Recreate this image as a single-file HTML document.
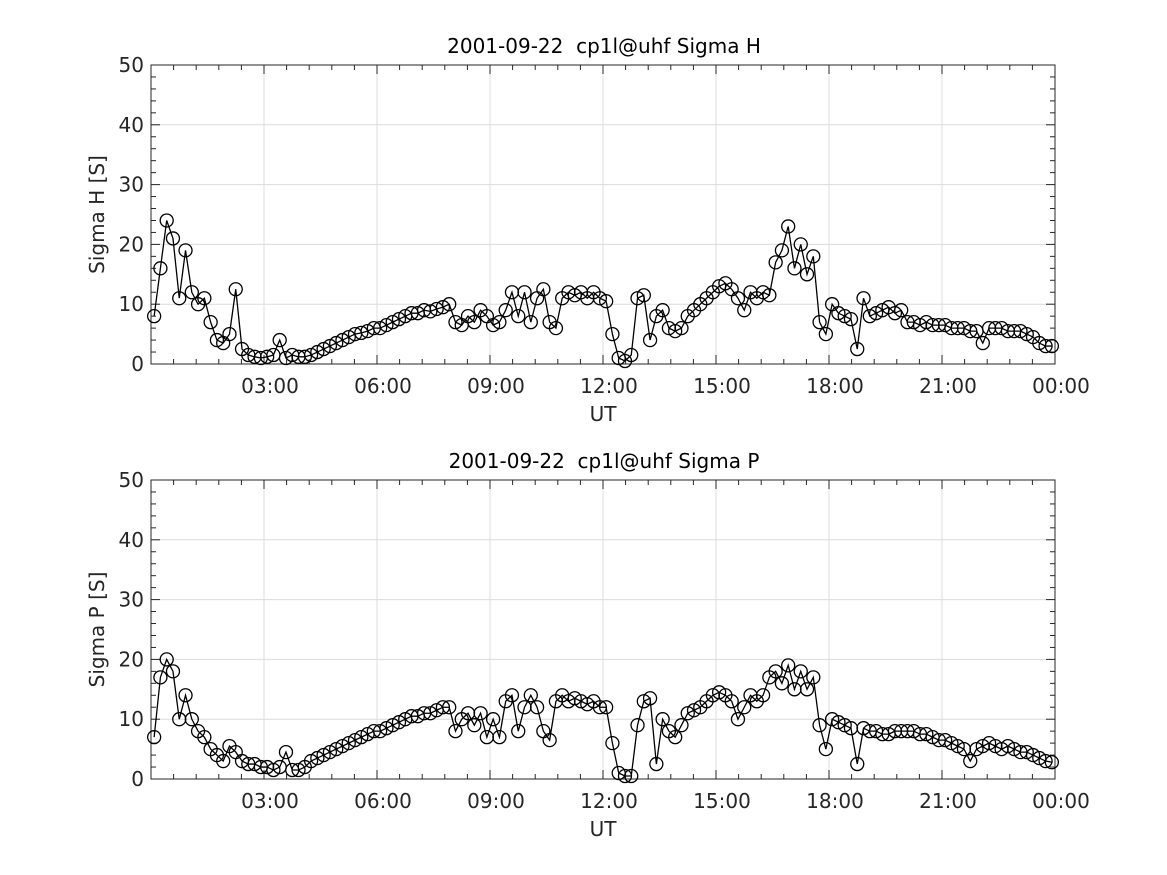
<!DOCTYPE html>
<html><head><meta charset="utf-8"><style>
body{margin:0;background:#fff;}
svg{display:block;font-family:"DejaVu Sans","Liberation Sans",sans-serif;}
text{white-space:pre;}
</style></head><body>
<svg id="c" width="1167" height="875"></svg>
<script>
const hoursLabels = ["03:00","06:00","09:00","12:00","15:00","18:00","21:00","00:00"];
const yTicks = [0,10,20,30,40,50];
const sigmaH = [
8,16,24,21,11,19, 12,10,11,7,4,3.5, 5,12.5,2.5,1.5,1.2,1, 1.2,1.5,4,1,1.5,1.2,
1.2,1.5,2,2.5,3,3.5, 4,4.5,5,5.2,5.5,6, 6,6.5,7,7.5,8,8.5, 8.5,9,8.8,9.2,9.5,10,
7,6.5,8,7,9,8, 6.5,7,9,12,8,12, 7,11,12.5,7,6,11, 12,11.5,12,11,12,11,
10.5,5,1,0.5,1.5,11, 11.5,4,8,9,6,5.5, 6,8,9,10,11,12, 13,13.5,12.5,11,9,12,
11,12,11.5,17,19,23, 16,20,15,18,7,5, 10,8.5,8,7.5,2.5,11, 8,8.5,9,9.5,8.5,9,
7,7,6.5,7,6.5,6.5, 6.5,6,6,6,5.5,5.5, 3.5,6,6,6,5.5,5.5, 5.5,5,4.5,3.5,3,3];
const sigmaP = [
7,17,20,18,10,14, 10,8,7,5,4,3, 5.5,4.5,3,2.5,2.5,2, 2,1.5,2,4.5,1.5,1.5,
2,3,3.5,4,4.5,5, 5.5,6,6.5,7,7.5,8, 8,8.5,9,9.5,10,10.5, 10.5,11,11,11.5,12,12,
8,10,11,9,11,7, 10,7,13,14,8,12, 14,12,8,6.5,13,14, 13,13.5,13,12.5,13,12,
12,6,1,0.5,0.5,9, 13,13.5,2.5,10,8,7, 9,11,11.5,12,13,14, 14.5,14,13,10,12,14,
13,14,17,18,16,19, 15,18,15,17,9,5, 10,9.5,9,8.5,2.5,8.5, 8,8,7.5,7.5,8,8,
8,8,7.5,7.5,7,6.5, 6.5,6,5.5,5,3,5, 5.5,6,5.5,5,5.5,5, 4.5,4.5,4,3.5,3,2.8];

const NS="http://www.w3.org/2000/svg";
const svg=document.getElementById('c');
function mk(tag,attrs,parent){const e=document.createElementNS(NS,tag);for(const k in attrs)e.setAttribute(k,attrs[k]);(parent||svg).appendChild(e);return e;}
const X0=151,X1=1055;
function xs(h){return X0+(X1-X0)*h/24;}

function panel(top,bottom,vals,title,ylab,key){
  const g=mk('g',{});
  
  
  const ys=v=>bottom-(bottom-top)*v/50;
  mk('rect',{x:X0,y:top,width:X1-X0,height:bottom-top,fill:'#fff'},g);
  for(let i=1;i<=8;i++){mk('line',{x1:xs(i*3),x2:xs(i*3),y1:top,y2:bottom,stroke:'#dcdcdc','stroke-width':1},g);}
  yTicks.forEach(v=>{mk('line',{x1:X0,x2:X1,y1:ys(v),y2:ys(v),stroke:'#dcdcdc','stroke-width':1},g);});
  for(let i=0;i<=40;i++){const x=xs(i*0.6);const L=(i%5==0)?9:5;
    mk('line',{x1:x,x2:x,y1:bottom,y2:bottom-L,stroke:'#262626'},g);
    mk('line',{x1:x,x2:x,y1:top,y2:top+L,stroke:'#262626'},g);}
  for(let v=0;v<=50;v+=2){const y=ys(v);const L=(v%10==0)?9:5;
    mk('line',{x1:X0,x2:X0+L,y1:y,y2:y,stroke:'#262626'},g);
    mk('line',{x1:X1,x2:X1-L,y1:y,y2:y,stroke:'#262626'},g);}
  mk('rect',{x:X0,y:top,width:X1-X0,height:bottom-top,fill:'none',stroke:'#262626','stroke-width':1},g);
  hoursLabels.forEach((t,i)=>{const e=mk('text',{x:xs((i+1)*3)+6,y:bottom+29,'text-anchor':'middle','font-size':20,fill:'#262626'},g);e.textContent=t;
    });
  yTicks.forEach(v=>{const e=mk('text',{x:X0-7,y:ys(v)+7,'text-anchor':'end','font-size':20,fill:'#262626'},g);e.textContent=v;
    });
  const xt=mk('text',{x:(X0+X1)/2,y:bottom+57,'text-anchor':'middle','font-size':20,fill:'#262626'},g);xt.textContent='UT';
  
  const yt=mk('text',{x:0,y:0,transform:`translate(104,${(top+bottom)/2}) rotate(-90)`,'text-anchor':'middle','font-size':20,fill:'#262626'},g);yt.textContent=ylab;
  
  const tt=mk('text',{x:(X0+X1)/2+1,y:top-12,'text-anchor':'middle','font-size':20,fill:'#000'},g);tt.textContent=title;
  
  const n=vals.length;
  const pts=vals.map((v,i)=>[xs(24*(i+0.5)/n),ys(v)]);
  const pl=mk('polyline',{points:pts.map(p=>p.join(',')).join(' '),fill:'none',stroke:'#000','stroke-width':1.3},g);
  
  pts.forEach(p=>{const c=mk('circle',{cx:p[0],cy:p[1],r:6.5,fill:'none',stroke:'#000','stroke-width':1.3},g);
    });
}
panel(65,364,sigmaH,'2001-09-22  cp1l@uhf Sigma H','Sigma H [S]','sigma-h');
panel(480,779,sigmaP,'2001-09-22  cp1l@uhf Sigma P','Sigma P [S]','sigma-p');
</script>
</body></html>
